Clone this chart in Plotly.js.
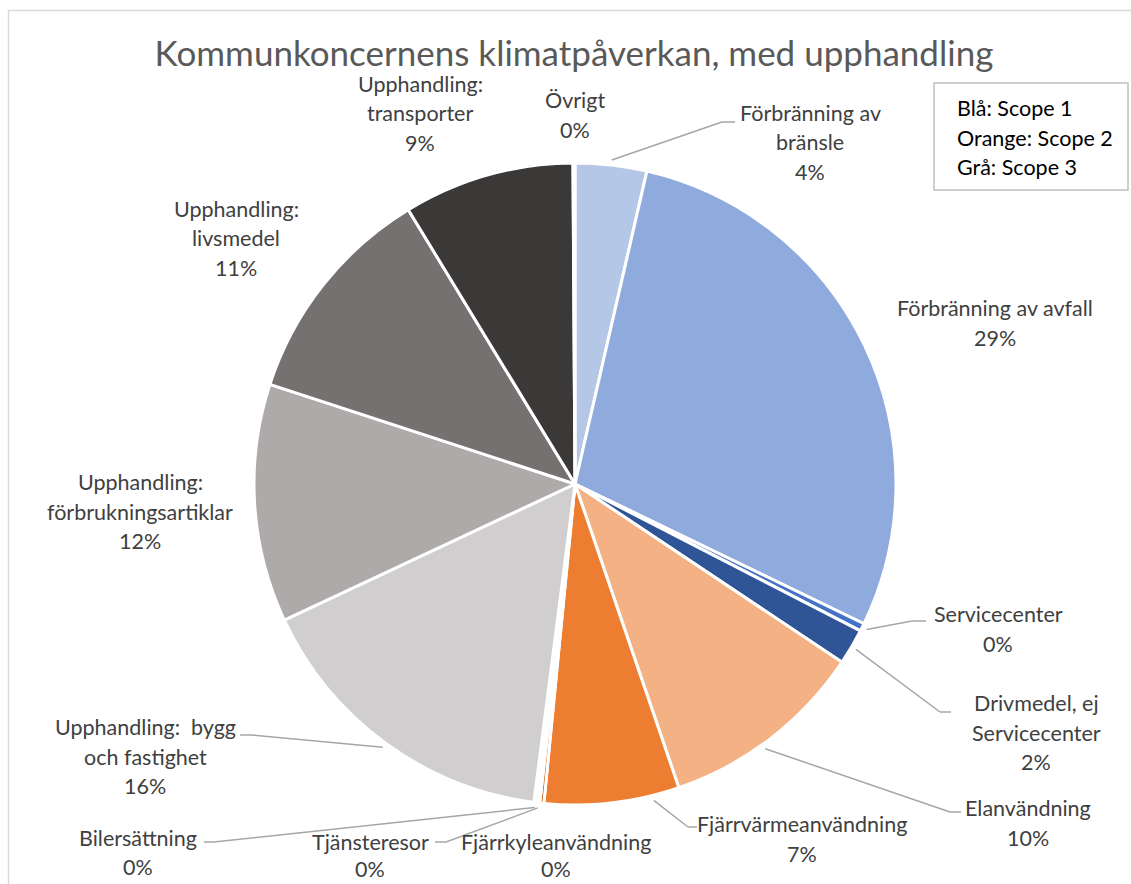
<!DOCTYPE html>
<html><head><meta charset="utf-8">
<script src="https://cdn.plot.ly/plotly-3.0.1.min.js"></script>
<style>html,body{margin:0;padding:0;background:#fff;overflow:hidden}</style>
</head><body><div id="chart" style="width:1131px;height:884px"></div>
<script>
// ---- data ----
const categories = [
  "Förbränning av<br>bränsle",
  "Förbränning av avfall",
  "Servicecenter",
  "Drivmedel, ej<br>Servicecenter",
  "Elanvändning",
  "Fjärrvärmeanvändning",
  "Fjärrkyleanvändning",
  "Tjänsteresor",
  "Bilersättning",
  "Upphandling:  bygg<br>och fastighet",
  "Upphandling:<br>förbrukningsartiklar",
  "Upphandling:<br>livsmedel",
  "Upphandling:<br>transporter",
  "Övrigt"
];
const values = [3.6, 28.6, 0.4, 1.8, 10.4, 6.8, 0.2, 0.15, 0.15, 16.0, 12.0, 11.3, 8.6, 0.1];
const sliceColors = ["#b4c7e7","#8faadc","#4472c4","#2f5597","#f4b183","#ed7d31","#c55a11",
  "#a5a5a5","#7f7f7f","#d0cece","#aeaaaa","#767171","#3b3838","#d9d9d9"];
const titleText = "Kommunkoncernens klimatpåverkan, med upphandling";
const legendLines = ["Blå: Scope 1", "Orange: Scope 2", "Grå: Scope 3"];

// ---- layout (pixels) ----
const W = 1131, H = 884;
const CX = 575, CY = 484, R = 321;
const FONT = 'Lato, "Open Sans", sans-serif';
// label center x, first line y, line spacing
const labelPos = [
  [810,113,29.5],[995,308,29.5],[998,614,29.5],[1036,703,29.5],[1028,808,29.5],[802,824,29.5],[556,842,27],
  [370,842,27],[138,838,29],[145,727,29.5],[140,482,29.5],[236,209,29.5],[420,84,29.5],[575,100,29.5]
];
// leader: [elbowX, elbowY, endX, fracWithinSlice]
const leaders = [
  [722,122,735,0.5], null, [912,621,926,0.5], [940,712,951,0.5], [950,812,961,0.55],
  [688,827,697,0.2], null, [446,842,435,0.5], [214,842,204,0.5], [252,735,240,0.5],
  null, null, null, null
];

const px = x => x / W;
const py = y => 1 - y / H;

const total = values.reduce((a,b)=>a+b,0);
const annotations = [];
const shapes = [];
let cum = 0;
values.forEach((v,i)=>{
  const startF = cum / total;
  cum += v;
  const endF = cum / total;
  const lines = categories[i].split("<br>");
  lines.push(Math.round(v/total*100) + "%");
  const [lx, ly, lh] = labelPos[i];
  lines.forEach((t,k)=>{
    annotations.push({x:px(lx), y:py(ly + k*lh), xref:'paper', yref:'paper',
      text:t, showarrow:false, xanchor:'center', yanchor:'middle', borderpad:0,
      font:{family:FONT, size:21.5, color:'#404040'}});
  });
  const ld = leaders[i];
  if (ld) {
    const f = startF + (endF - startF) * ld[3];
    const ang = f * 2 * Math.PI;
    const rr = R + 5;
    const ax = CX + rr * Math.sin(ang), ay = CY - rr * Math.cos(ang);
    shapes.push({type:'line', xref:'paper', yref:'paper', x0:px(ax), y0:py(ay), x1:px(ld[0]), y1:py(ld[1]),
      line:{color:'#a6a6a6', width:1.5}, layer:'above'});
    shapes.push({type:'line', xref:'paper', yref:'paper', x0:px(ld[0]), y0:py(ld[1]), x1:px(ld[2]), y1:py(ld[1]),
      line:{color:'#a6a6a6', width:1.5}, layer:'above'});
  }
});

// chart border
shapes.push({type:'rect', xref:'paper', yref:'paper', x0:px(8.5), y0:py(10.5), x1:1.02, y1:-0.02,
  line:{color:'#d9d9d9', width:1.5}, layer:'below'});
// scope box
shapes.push({type:'rect', xref:'paper', yref:'paper', x0:px(934), y0:py(83), x1:px(1128), y1:py(190),
  line:{color:'#bfbfbf', width:1.5}, fillcolor:'rgba(0,0,0,0)', layer:'above'});
legendLines.forEach((t,k)=>{
  annotations.push({x:px(955), y:py(108 + k*29.5), xref:'paper', yref:'paper', text:t, showarrow:false,
    xanchor:'left', yanchor:'middle', font:{family:FONT, size:21.5, color:'#000000'}});
});

const trace = {
  type:'pie', values:values, labels:categories, sort:false, direction:'clockwise', rotation:0,
  marker:{colors:sliceColors, line:{color:'#ffffff', width:3}},
  textinfo:'none', hoverinfo:'label+percent', showlegend:false,
  domain:{x:[px(CX-R), px(CX+R)], y:[py(CY+R), py(CY-R)]}
};

const layout = {
  width:W, height:H, margin:{l:0,r:0,t:0,b:0}, paper_bgcolor:'#ffffff', plot_bgcolor:'#ffffff',
  showlegend:false,
  title:{text:titleText, x:px(574), xref:'paper', xanchor:'center', y:py(54), yref:'paper', yanchor:'middle',
    font:{family:FONT, size:35, color:'#595959'}},
  annotations:annotations, shapes:shapes
};
Plotly.newPlot('chart', [trace], layout, {displayModeBar:false, staticPlot:true});
</script></body></html>
